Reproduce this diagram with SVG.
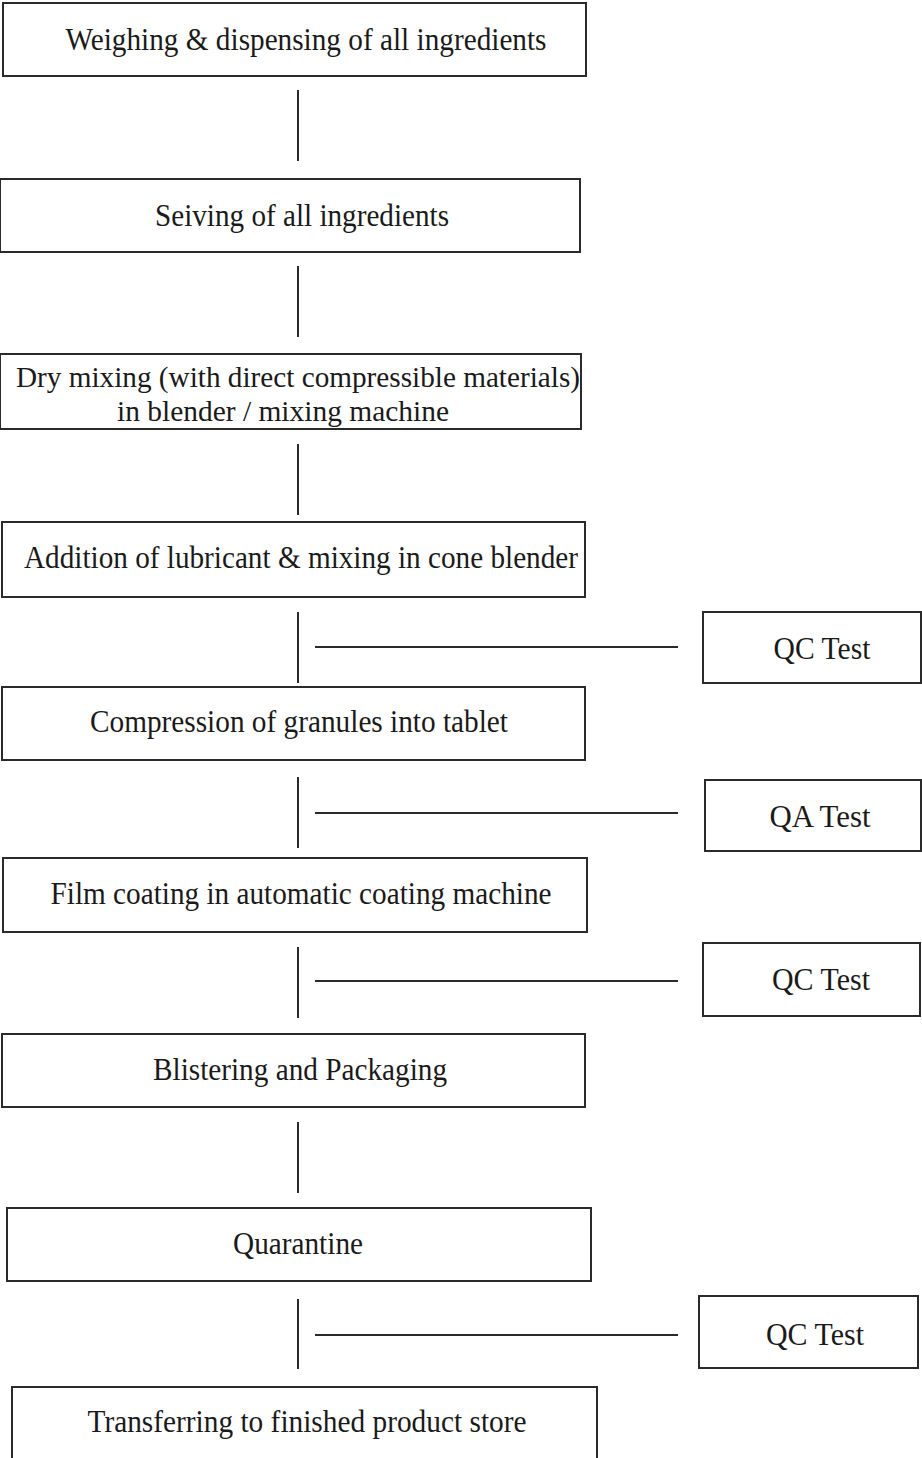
<svg xmlns="http://www.w3.org/2000/svg" width="922" height="1458" viewBox="0 0 922 1458">
<style>
.box{fill:#fff;stroke:#2a2a2a;stroke-width:2}
.t{font-family:"Liberation Serif","Times New Roman",serif;font-size:32px;fill:#1a1a1a;text-anchor:middle}
.s{font-size:29px}
.c{stroke:#2a2a2a;stroke-width:2;fill:none}
</style>
<rect width="922" height="1458" fill="#fff"/>
<g id="connectors">
<line class="c" x1="298" y1="90" x2="298" y2="161"/>
<line class="c" x1="298" y1="266" x2="298" y2="337"/>
<line class="c" x1="298" y1="444" x2="298" y2="515"/>
<line class="c" x1="298" y1="612" x2="298" y2="683"/>
<line class="c" x1="298" y1="777" x2="298" y2="848"/>
<line class="c" x1="298" y1="947" x2="298" y2="1018"/>
<line class="c" x1="298" y1="1122" x2="298" y2="1193"/>
<line class="c" x1="298" y1="1299" x2="298" y2="1369"/>
<line class="c" x1="315" y1="647" x2="678" y2="647"/>
<line class="c" x1="315" y1="813" x2="678" y2="813"/>
<line class="c" x1="315" y1="981" x2="678" y2="981"/>
<line class="c" x1="315" y1="1335" x2="678" y2="1335"/>
</g>
<g id="n1"><rect class="box" x="3" y="3" width="583" height="73"/><text class="t" x="306" y="50" textLength="481" lengthAdjust="spacingAndGlyphs">Weighing &amp; dispensing of all ingredients</text></g>
<g id="n2"><rect class="box" x="0" y="179" width="580" height="73"/><text class="t" x="302" y="226" textLength="294" lengthAdjust="spacingAndGlyphs">Seiving of all ingredients</text></g>
<g id="n3"><rect class="box" x="0" y="354" width="581" height="75"/><text class="t s" x="298" y="387" textLength="564" lengthAdjust="spacingAndGlyphs">Dry mixing (with direct compressible materials)</text><text class="t s" x="283" y="421" textLength="332" lengthAdjust="spacingAndGlyphs">in blender / mixing machine</text></g>
<g id="n4"><rect class="box" x="2" y="522" width="583" height="75"/><text class="t" x="301" y="568" textLength="554" lengthAdjust="spacingAndGlyphs">Addition of lubricant &amp; mixing in cone blender</text></g>
<g id="n5"><rect class="box" x="2" y="687" width="583" height="73"/><text class="t" x="299" y="732" textLength="418" lengthAdjust="spacingAndGlyphs">Compression of granules into tablet</text></g>
<g id="n6"><rect class="box" x="3" y="858" width="584" height="74"/><text class="t" x="301" y="904" textLength="501" lengthAdjust="spacingAndGlyphs">Film coating in automatic coating machine</text></g>
<g id="n7"><rect class="box" x="2" y="1034" width="583" height="73"/><text class="t" x="300" y="1080" textLength="294" lengthAdjust="spacingAndGlyphs">Blistering and Packaging</text></g>
<g id="n8"><rect class="box" x="7" y="1208" width="584" height="73"/><text class="t" x="298" y="1254" textLength="130" lengthAdjust="spacingAndGlyphs">Quarantine</text></g>
<g id="n9"><rect class="box" x="12" y="1387" width="585" height="80"/><text class="t" x="307" y="1432" textLength="439" lengthAdjust="spacingAndGlyphs">Transferring to finished product store</text></g>
<g id="qc1"><rect class="box" x="703" y="612" width="218" height="71"/><text class="t" x="822" y="659" textLength="97" lengthAdjust="spacingAndGlyphs">QC Test</text></g>
<g id="qa1"><rect class="box" x="705" y="780" width="216" height="71"/><text class="t" x="820" y="827" textLength="101" lengthAdjust="spacingAndGlyphs">QA Test</text></g>
<g id="qc2"><rect class="box" x="703" y="943" width="217" height="73"/><text class="t" x="821" y="990" textLength="98" lengthAdjust="spacingAndGlyphs">QC Test</text></g>
<g id="qc3"><rect class="box" x="699" y="1296" width="219" height="72"/><text class="t" x="815" y="1345" textLength="98" lengthAdjust="spacingAndGlyphs">QC Test</text></g>
</svg>
